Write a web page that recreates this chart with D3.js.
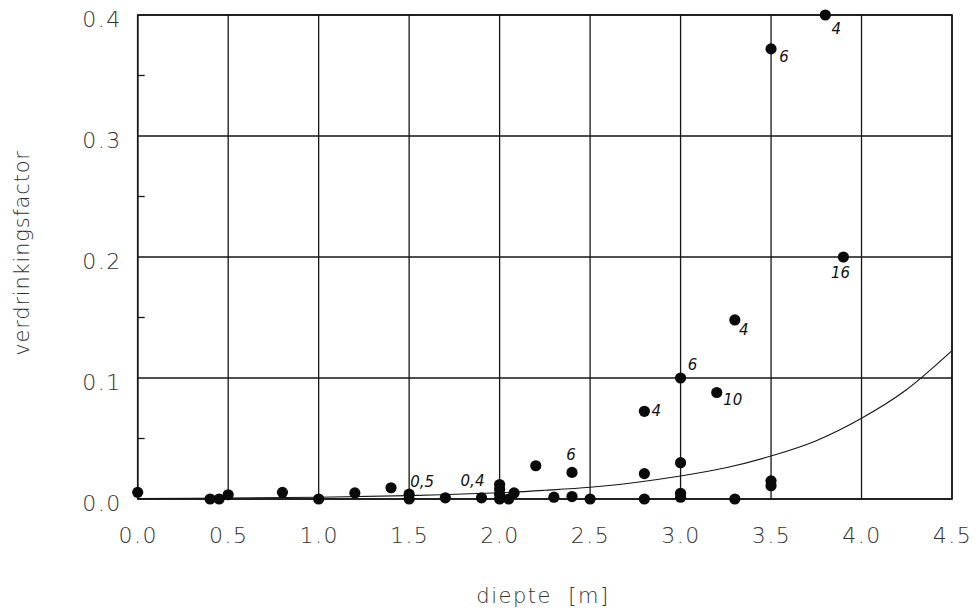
<!DOCTYPE html>
<html>
<head>
<meta charset="utf-8">
<script src="https://cdn.jsdelivr.net/npm/d3@7"></script>
<style>
  html, body { margin: 0; padding: 0; background: #fff; }
  svg { display: block; }
</style>
</head>
<body>
<svg id="chart" width="976" height="613"></svg>
<script>
// ---- data ----
const xTicks = [0, 0.5, 1.0, 1.5, 2.0, 2.5, 3.0, 3.5, 4.0, 4.5];
const yTicks = [0, 0.1, 0.2, 0.3, 0.4];
const yMinorTicks = [0.05, 0.15, 0.25, 0.35];

const depth  = [0.0, 0.4, 0.45, 0.5, 0.8, 1.0, 1.2, 1.4, 1.5, 1.5, 1.7, 1.9,
                2.0, 2.0, 2.0, 2.0, 2.05, 2.08, 2.2, 2.3, 2.4, 2.4, 2.5,
                2.8, 2.8, 2.8, 3.0, 3.0, 3.0, 3.0, 3.2, 3.3, 3.3,
                3.5, 3.5, 3.5, 3.8, 3.9];
const factor = [0.0055, 0, 0, 0.0035, 0.0055, 0, 0.005, 0.0093, 0.004, 0, 0.001, 0.001,
                0.012, 0.008, 0.004, 0.0, 0, 0.005, 0.0275, 0.0015, 0.022, 0.002, 0,
                0.0725, 0.021, 0, 0.1, 0.03, 0.0047, 0.0015, 0.088, 0.148, 0,
                0.372, 0.015, 0.011, 0.4, 0.2];

// fitted curve
const curveX = [0, 0.5, 1.0, 1.5, 2.0, 2.25, 2.5, 2.75, 3.0, 3.25, 3.5, 3.75, 4.0, 4.25, 4.5];
const curveY = [0.0004, 0.0008, 0.0015, 0.0028, 0.0052, 0.0072, 0.0097, 0.0137, 0.019, 0.0258, 0.0355, 0.0482, 0.0667, 0.0905, 0.1226];

// handwritten annotations next to points
const labelText  = ["4", "6", "16", "4", "6", "10", "4", "6", "0,5", "0,4"];
const labelDepth = [3.8, 3.5, 3.9, 3.3, 3.0, 3.2, 2.8, 2.4, 1.5, 1.9];
const labelValue = [0.4, 0.372, 0.2, 0.148, 0.1, 0.088, 0.0725, 0.022, 0, 0.001];

// ---- layout (not data) ----
const labelOffsets = [[11, 14], [13, 9], [-3, 16], [9, 11], [12, -13], [16, 8], [12, 0], [-1, -17], [13, -17], [-9, -16]];
const plot = { left: 137.7, right: 952, top: 15, bottom: 499 };

const svg = d3.select("#chart");
const x = d3.scaleLinear().domain([0, 4.5]).range([plot.left, plot.right]);
const y = d3.scaleLinear().domain([0, 0.4]).range([plot.bottom, plot.top]);

const ink = "#161616";
const tickFont = "'DejaVu Sans', sans-serif";

// grid
const grid = svg.append("g");
grid.selectAll("line.v").data(xTicks).join("line")
  .attr("x1", d => x(d)).attr("x2", d => x(d))
  .attr("y1", plot.top).attr("y2", plot.bottom)
  .attr("stroke", ink).attr("stroke-width", 1.3);
grid.selectAll("line.h").data(yTicks).join("line")
  .attr("x1", plot.left).attr("x2", plot.right)
  .attr("y1", d => y(d)).attr("y2", d => y(d))
  .attr("stroke", ink).attr("stroke-width", 1.3);
// minor ticks on left axis (inside)
grid.selectAll("line.m").data(yMinorTicks).join("line")
  .attr("x1", plot.left).attr("x2", plot.left + 7)
  .attr("y1", d => y(d)).attr("y2", d => y(d))
  .attr("stroke", ink).attr("stroke-width", 1.3);
// frame
svg.append("rect")
  .attr("x", plot.left).attr("y", plot.top)
  .attr("width", plot.right - plot.left).attr("height", plot.bottom - plot.top)
  .attr("fill", "none").attr("stroke", ink).attr("stroke-width", 1.6);

// axes (labels only)
const xAxis = d3.axisBottom(x).tickValues(xTicks).tickFormat(d3.format(".1f")).tickSize(0).tickPadding(0);
const gx = svg.append("g").attr("transform", `translate(0,${plot.bottom + 28})`).call(xAxis);
gx.select(".domain").remove();
gx.selectAll("text").attr("font-family", tickFont).attr("font-weight", 200)
  .attr("font-size", 22).attr("fill", "#333").attr("dy", "0.71em").attr("letter-spacing", 1.5);

const yAxis = d3.axisLeft(y).tickValues(yTicks).tickFormat(d3.format(".1f")).tickSize(0).tickPadding(0);
const gy = svg.append("g").attr("transform", `translate(${plot.left - 16},4)`).call(yAxis);
gy.select(".domain").remove();
gy.selectAll("text").attr("font-family", tickFont).attr("font-weight", 200)
  .attr("font-size", 22).attr("fill", "#333").attr("letter-spacing", 1.5);

// axis titles
svg.append("text")
  .attr("transform", `translate(29,253) rotate(-90)`)
  .attr("text-anchor", "middle")
  .attr("font-family", tickFont).attr("font-weight", 200).attr("font-size", 21)
  .attr("fill", "#333").attr("letter-spacing", 0.8)
  .text("verdrinkingsfactor");
svg.append("text")
  .attr("x", 543).attr("y", 603)
  .attr("text-anchor", "middle")
  .attr("font-family", tickFont).attr("font-weight", 200).attr("font-size", 21)
  .attr("fill", "#333").attr("letter-spacing", 1.5)
  .attr("xml:space", "preserve")
  .text("diepte  [m]");

// curve
const curvePts = curveX.map((d, i) => [d, curveY[i]]);
svg.append("path")
  .datum(curvePts)
  .attr("d", d3.line().x(d => x(d[0])).y(d => y(d[1])).curve(d3.curveCatmullRom.alpha(0.5)))
  .attr("fill", "none").attr("stroke", ink).attr("stroke-width", 1.1);

// points
const pts = depth.map((d, i) => ({ d, v: factor[i] }));
svg.append("g").selectAll("circle").data(pts).join("circle")
  .attr("cx", p => x(p.d)).attr("cy", p => y(p.v)).attr("r", 5.6)
  .attr("fill", "#0a0a0a");

// annotations
const labs = labelText.map((t, i) => ({ t, d: labelDepth[i], v: labelValue[i], o: labelOffsets[i] }));
svg.append("g").selectAll("text").data(labs).join("text")
  .attr("x", l => x(l.d) + l.o[0]).attr("y", l => y(l.v) + l.o[1])
  .attr("text-anchor", "middle").attr("dominant-baseline", "middle")
  .attr("font-family", "'DejaVu Sans', sans-serif").attr("font-style", "italic")
  .attr("font-weight", 500).attr("font-size", 15).attr("fill", "#111")
  .text(l => l.t);
</script>
</body>
</html>
